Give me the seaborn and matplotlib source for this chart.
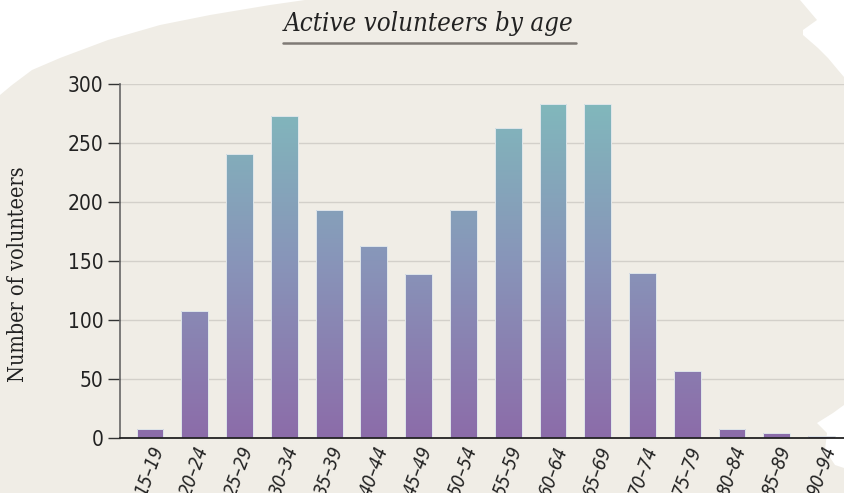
import numpy as np
import pandas as pd
import matplotlib.pyplot as plt
import seaborn as sns
from matplotlib.colors import LinearSegmentedColormap
from matplotlib.patches import Polygon

# data
age_groups = ["15–19", "20–24", "25–29", "30–34", "35–39", "40–44", "45–49", "50–54",
              "55–59", "60–64", "65–69", "70–74", "75–79", "80–84", "85–89", "90–94"]
volunteers = [8, 108, 241, 273, 193, 163, 139, 193, 263, 283, 283, 140, 57, 8, 4, 2]
y_ticks = [0, 50, 100, 150, 200, 250, 300]

df = pd.DataFrame({"age": age_groups, "count": volunteers})

bg = "#f0ede6"
sns.set_theme(style="white")
plt.rcParams["font.family"] = ["DejaVu Sans"]
plt.rcParams["font.stretch"] = "condensed"

fig = plt.figure(figsize=(8.44, 4.93), dpi=100, facecolor=bg)
W, H = 844, 493

# torn paper edges (white)
def px(pts):
    return [(x / W, 1 - y / H) for x, y in pts]

for pts in [
    [(0, 0), (305, 0), (270, 5), (210, 15), (160, 25), (108, 40), (60, 58), (32, 70), (12, 85), (0, 95)],
    [(800, 0), (844, 0), (844, 77), (838, 70), (828, 58), (818, 48), (803, 35), (803, 30), (817, 20)],
    [(844, 405), (833, 413), (817, 423), (827, 433), (825, 450), (835, 465), (844, 468)],
]:
    fig.add_artist(Polygon(px(pts), closed=True, transform=fig.transFigure,
                           facecolor="white", edgecolor="none", zorder=0))

ax = fig.add_axes([120 / W, 1 - 438 / H, 1 - 120 / W, (438 - 84) / H])
ax.set_facecolor("none")

sns.barplot(data=df, x="age", y="count", ax=ax, width=0.6, color="#8aa0b8",
            edgecolor="#dfe6ea", linewidth=0.7, zorder=3)

ax.set_xlim(-0.67, len(age_groups) - 0.5)
ax.set_ylim(0, 300)

# vertical gradient shared by all bars
cmap = LinearSegmentedColormap.from_list("grad", ["#8c6ca9", "#8895b9", "#80bcbc"])
grad = np.linspace(0, 1, 256).reshape(-1, 1)
x0, x1 = ax.get_xlim()
for bar in ax.patches:
    bar.set_facecolor("none")
    im = ax.imshow(grad, cmap=cmap, origin="lower", aspect="auto",
                   extent=[x0, x1, 0, 300], zorder=2)
    im.set_clip_path(bar)
ax.set_xlim(x0, x1)
ax.set_ylim(0, 300)

ax.set_yticks(y_ticks)
ax.yaxis.grid(True, color="#d3d0ca", linewidth=1)
ax.set_axisbelow(True)

for s in ["top", "right"]:
    ax.spines[s].set_visible(False)
ax.spines["left"].set_color("#666666")
ax.spines["left"].set_linewidth(1.2)
ax.spines["bottom"].set_color("#222222")
ax.spines["bottom"].set_linewidth(1.3)
ax.spines["bottom"].set_zorder(4)

ax.tick_params(axis="y", length=9, width=1, color="#333333", labelsize=15,
               labelcolor="#222222", pad=3, left=True)
ax.tick_params(axis="x", length=0, pad=4)
ax.set_xticks(range(len(age_groups)))
ax.set_xticklabels(age_groups, rotation=70, ha="right", rotation_mode="anchor",
                   fontsize=13.5, fontstyle="italic", color="#222222")

ax.set_xlabel("")
ax.set_ylabel("Number of volunteers", fontsize=15.5, family="DejaVu Serif",
              color="#222222")
ax.yaxis.set_label_coords(-0.125, 0.463)

fig.text(429 / W, 1 - 23 / H, "Active volunteers by age", ha="center", va="center",
         fontsize=18.5, fontstyle="italic", family="DejaVu Serif", color="#222222")
fig.add_artist(plt.Line2D([283 / W, 576 / W], [1 - 43 / H, 1 - 43 / H],
                          transform=fig.transFigure, color="#7f7a75", linewidth=1.8))

fig.savefig("out.png", dpi=100, facecolor=bg)
